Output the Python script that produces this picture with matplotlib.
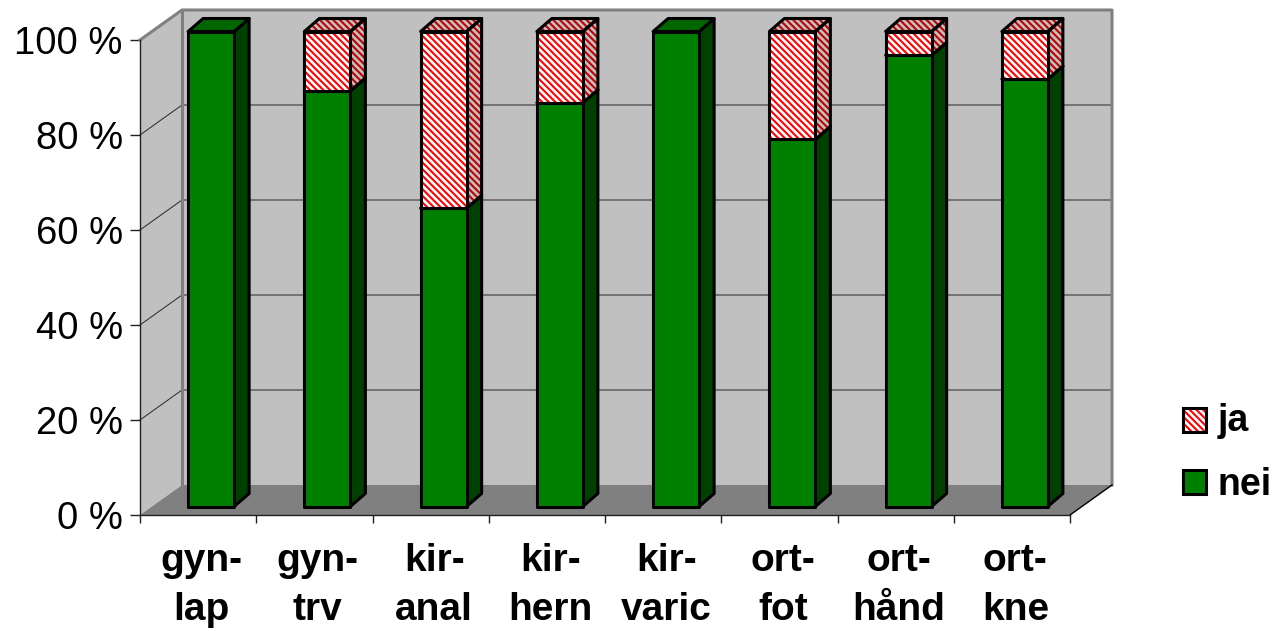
import matplotlib
matplotlib.use("Agg")
import matplotlib.pyplot as plt
from matplotlib.legend_handler import HandlerBase
from matplotlib.patches import Patch, Rectangle

categories = ["gyn-\nlap", "gyn-\ntrv", "kir-\nanal", "kir-\nhern", "kir-\nvaric", "ort-\nfot", "ort-\nhånd", "ort-\nkne"]
nei = [100, 87.5, 62.8, 85, 100, 77.3, 95, 90]
ja = [0, 12.5, 37.2, 15, 0, 22.7, 5, 10]
yticks = [0, 20, 40, 60, 80, 100]
ytick_labels = ["0 %", "20 %", "40 %", "60 %", "80 %", "100 %"]

plt.rcParams["font.family"] = ["Liberation Sans", "DejaVu Sans"]
plt.rcParams["hatch.linewidth"] = 1.5

W, H = 1283, 631
fig = plt.figure(figsize=(W / 100, H / 100), dpi=100, facecolor="white")
L, R, B, T = 140, 1070, 515, 40
ax = fig.add_axes([L / W, 1 - B / H, (R - L) / W, (B - T) / H])
ax.set_xlim(0, 8)
ax.set_ylim(0, 100)
ax.set_autoscale_on(False)
ax.patch.set_visible(False)

px = 8 / (R - L)
py = 100 / (B - T)
WX, WY = 42 * px, 30 * py      # depth of the box
BX, BY = 15 * px, 13 * py      # depth of a bar
OX, OY = 13 * px, 8.5 * py     # where the bars stand on the floor
BAR = 46 * px

WALL, FLOOR, EDGE = "#c0c0c0", "#808080", "#808080"
GREEN, GREEN_TOP, GREEN_SIDE = "#008000", "#006600", "#004000"
HATCH = "\\" * 5

# walls and floor
ax.fill([0, WX, WX, 0], [0, WY, 100 + WY, 100], color=WALL, lw=0, zorder=1, clip_on=False)
ax.fill([WX, 8 + WX, 8 + WX, WX], [WY, WY, 100 + WY, 100 + WY], color=WALL, lw=0, zorder=1, clip_on=False)
ax.fill([0, 8, 8 + WX, WX], [0, 0, WY, WY], color=FLOOR, lw=0, zorder=1.5, clip_on=False)

# gridlines
for v in yticks[1:-1]:
    ax.plot([0, WX, 8 + WX], [v, v + WY, v + WY], color="#303030", lw=0.75, zorder=2, clip_on=False)

# box edges
ax.plot([0, WX, 8 + WX, 8 + WX], [100, 100 + WY, 100 + WY, WY], color=EDGE, lw=2.2, zorder=2, clip_on=False)
ax.plot([WX, WX], [WY, 100 + WY], color=EDGE, lw=2.2, zorder=2, clip_on=False)
ax.plot([8, 8 + WX], [0, WY], color="black", lw=1.0, zorder=2, clip_on=False)

LW = 2.2


def face(xs, ys, fill, z, stripe=None):
    if stripe:
        ax.fill(xs, ys, facecolor=fill, edgecolor=stripe, hatch=HATCH, lw=0, zorder=z, clip_on=False)
        ax.fill(xs, ys, facecolor="none", edgecolor="black", lw=LW, zorder=z + 0.01, clip_on=False, joinstyle="round")
    else:
        ax.fill(xs, ys, facecolor=fill, edgecolor="black", lw=LW, zorder=z, clip_on=False, joinstyle="round")


def box(i, lo, hi, z, front, side, top, stripe_front=None, stripe_side=None):
    x0 = i + 0.5 + OX - BAR / 2
    x1 = x0 + BAR
    y0, y1 = lo + OY, hi + OY
    face([x1, x1 + BX, x1 + BX, x1], [y0, y0 + BY, y1 + BY, y1], side, z, stripe_side)
    face([x0, x1, x1 + BX, x0 + BX], [y1, y1, y1 + BY, y1 + BY], top, z, stripe_side)
    face([x0, x1, x1, x0], [y0, y0, y1, y1], front, z + 0.02, stripe_front)


for i, (n, j) in enumerate(zip(nei, ja)):
    box(i, 0, n, 4, GREEN, GREEN_SIDE, GREEN_TOP)
    if j > 0:
        box(i, n, n + j, 5, "white", "#c0c0c0", "#c0c0c0", "#ff0000", "#c00000")

# axes, ticks, labels
for s in ("top", "right"):
    ax.spines[s].set_visible(False)
for s in ("left", "bottom"):
    ax.spines[s].set_linewidth(1.0)
    ax.spines[s].set_color("#202020")
    ax.spines[s].set_zorder(3)
ax.set_yticks(yticks, ytick_labels, fontsize=27.5)
ax.tick_params(axis="y", length=7.5, width=1.0, color="#202020", pad=5)
ax.set_xticks(range(9), [""] * 9)
ax.tick_params(axis="x", which="major", length=6, width=1.0, color="#202020")
ax.set_xticks([i + 0.53 for i in range(8)], categories, minor=True,
              fontsize=28, fontweight="bold", linespacing=1.46)
ax.tick_params(axis="x", which="minor", length=0, pad=20)


class HatchedHandler(HandlerBase):
    def create_artists(self, legend, orig, xd, yd, width, height, fontsize, trans):
        under = Rectangle((xd, yd), width, height, facecolor="white", edgecolor="#ff0000",
                          hatch=HATCH, lw=0, transform=trans)
        over = Rectangle((xd, yd), width, height, facecolor="none", edgecolor="black",
                         lw=LW, transform=trans)
        return [under, over]


ja_handle = Patch(label="ja")
nei_handle = Patch(facecolor=GREEN, edgecolor="black", linewidth=LW, label="nei")
fig.legend([ja_handle, nei_handle], ["ja", "nei"], loc="center left",
           bbox_to_anchor=(1183 / W, 1 - 453 / H), frameon=False,
           prop=dict(size=27, weight="bold"), handlelength=0.61, handleheight=0.61,
           handletextpad=0.32, labelspacing=0.77, borderpad=0, borderaxespad=0,
           handler_map={ja_handle: HatchedHandler()})

fig.savefig("out.png", dpi=100, facecolor="white")
